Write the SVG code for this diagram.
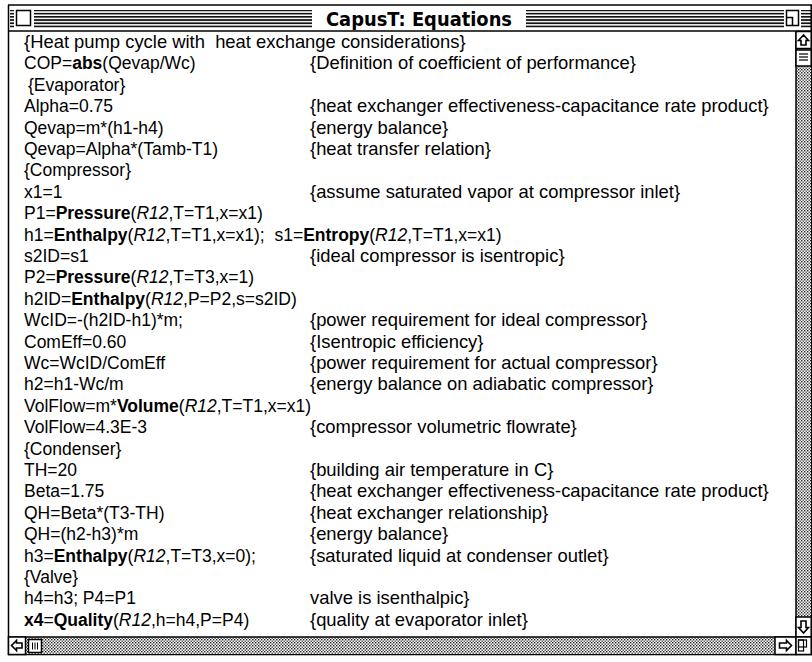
<svg xmlns="http://www.w3.org/2000/svg" width="812" height="662" viewBox="0 0 812 662">
<defs>
  <pattern id="dither" width="3" height="3" patternUnits="userSpaceOnUse">
    <rect width="3" height="3" fill="#fff"/>
    <rect x="0" y="0" width="1.4" height="1.4" fill="#222"/>
    <rect x="1.5" y="1.5" width="1.4" height="1.4" fill="#444"/>
  </pattern>
  <pattern id="stripes" width="4" height="3.2" patternUnits="userSpaceOnUse">
    <rect width="4" height="3.2" fill="#fff"/>
    <rect y="0" width="4" height="1.7" fill="#111"/>
  </pattern>
  <style>
    .code { font-family: "Liberation Sans", Arial, sans-serif; font-size: 17.5px; fill: #000; }
    .note { font-family: "Liberation Sans", Arial, sans-serif; font-size: 18.4px; fill: #000; }
    .b { font-weight: bold; }
    .i { font-style: italic; }
    .title { font-family: "DejaVu Sans", sans-serif; font-weight: bold; font-size: 19px; fill: #000; }
    .box { fill: #fff; stroke: #000; stroke-width: 1.5; }
    .glyph { fill: #fff; stroke: #000; stroke-width: 1.6; stroke-linejoin: miter; }
    .edge { stroke: #000; stroke-width: 1.5; fill: none; }
  </style>
</defs>

<rect width="812" height="662" fill="#fff"/>

<!-- window title bar -->
<g id="titlebar">
  <line x1="8" y1="5" x2="812" y2="5" class="edge"/>
  <rect x="10" y="10" width="802" height="18" fill="url(#stripes)"/>
  <!-- close box -->
  <rect x="14" y="7" width="20" height="22" fill="#fff"/>
  <rect x="16.5" y="10.5" width="14" height="15" class="box"/>
  <!-- title -->
  <rect x="312" y="7" width="214" height="22" fill="#fff"/>
  <text x="419" y="26" text-anchor="middle" class="title" textLength="186" lengthAdjust="spacingAndGlyphs">CapusT: Equations</text>
  <!-- zoom box -->
  <rect x="784" y="7" width="17" height="22" fill="#fff"/>
  <rect x="786.5" y="10.5" width="12" height="15" class="box"/>
  <polyline points="786.5,17.5 792.5,17.5 792.5,25.5" class="edge"/>
  <line x1="8" y1="31" x2="812" y2="31" class="edge"/>
</g>

<!-- window frame -->
<g id="frame">
  <line x1="8.5" y1="5" x2="8.5" y2="655" class="edge"/>
  <line x1="8" y1="654.5" x2="812" y2="654.5" class="edge"/>
  <line x1="811.2" y1="5" x2="811.2" y2="655" class="edge"/>
</g>

<!-- vertical scroll bar -->
<g id="vscroll">
  <rect x="796" y="31" width="15" height="606" fill="url(#dither)"/>
  <line x1="796" y1="31" x2="796" y2="637" class="edge"/>
  <rect x="796" y="31.5" width="15.2" height="17" class="box"/>
  <polygon points="803.5,35 798.5,40.5 801,40.5 801,45 806,45 806,40.5 808.5,40.5" class="glyph"/>
  <rect x="796" y="50" width="15.2" height="16" class="box"/>
  <line x1="799" y1="54" x2="808" y2="54" stroke="#000" stroke-width="1.2"/>
  <line x1="799" y1="57" x2="808" y2="57" stroke="#000" stroke-width="1.2"/>
  <line x1="799" y1="60" x2="808" y2="60" stroke="#000" stroke-width="1.2"/>
  <rect x="796" y="617" width="15.2" height="20" class="box"/>
  <polygon points="803.5,633 798.5,627.5 801,627.5 801,621 806,621 806,627.5 808.5,627.5" class="glyph"/>
</g>

<!-- horizontal scroll bar -->
<g id="hscroll">
  <rect x="9" y="637" width="787" height="17" fill="url(#dither)"/>
  <line x1="8" y1="637" x2="812" y2="637" class="edge"/>
  <rect x="8.5" y="637" width="17" height="17.5" class="box"/>
  <polygon points="11.5,645.5 16.5,640.5 16.5,643 22,643 22,648 16.5,648 16.5,650.5" class="glyph"/>
  <rect x="28.5" y="639.5" width="13" height="13" class="box"/>
  <line x1="32.5" y1="642.5" x2="32.5" y2="649.5" stroke="#000" stroke-width="1"/>
  <line x1="35" y1="642.5" x2="35" y2="649.5" stroke="#000" stroke-width="1"/>
  <line x1="37.5" y1="642.5" x2="37.5" y2="649.5" stroke="#000" stroke-width="1"/>
  <rect x="775" y="637" width="21" height="17.5" class="box"/>
  <polygon points="791.5,645.5 786.5,640.5 786.5,643 779.5,643 779.5,648 786.5,648 786.5,650.5" class="glyph"/>
  <!-- grow box -->
  <rect x="796" y="637" width="15.2" height="17.5" class="box"/>
  <rect x="798.5" y="640" width="8" height="7" fill="none" stroke="#000" stroke-width="1.2"/>
  <rect x="798.5" y="640" width="5" height="11" fill="none" stroke="#000" stroke-width="1.2"/>
</g>

<!-- equations listing -->
<g id="equations" class="code">
  <text x="24" y="48" xml:space="preserve" class="note">{Heat pump cycle with  heat exchange considerations}</text>
  <text x="24" y="69.4">COP=<tspan class="b">abs</tspan>(Qevap/Wc)</text>
  <text x="28" y="90.8">{Evaporator}</text>
  <text x="24" y="112.2">Alpha=0.75</text>
  <text x="24" y="133.6">Qevap=m*(h1-h4)</text>
  <text x="24" y="155">Qevap=Alpha*(Tamb-T1)</text>
  <text x="24" y="176.4">{Compressor}</text>
  <text x="24" y="197.8">x1=1</text>
  <text x="24" y="219.2">P1=<tspan class="b">Pressure</tspan>(<tspan class="i">R12</tspan>,T=T1,x=x1)</text>
  <text x="24" y="240.6" xml:space="preserve">h1=<tspan class="b">Enthalpy</tspan>(<tspan class="i">R12</tspan>,T=T1,x=x1);  s1=<tspan class="b">Entropy</tspan>(<tspan class="i">R12</tspan>,T=T1,x=x1)</text>
  <text x="24" y="262">s2ID=s1</text>
  <text x="24" y="283.4">P2=<tspan class="b">Pressure</tspan>(<tspan class="i">R12</tspan>,T=T3,x=1)</text>
  <text x="24" y="304.8">h2ID=<tspan class="b">Enthalpy</tspan>(<tspan class="i">R12</tspan>,P=P2,s=s2ID)</text>
  <text x="24" y="326.2">WcID=-(h2ID-h1)*m;</text>
  <text x="24" y="347.6">ComEff=0.60</text>
  <text x="24" y="369">Wc=WcID/ComEff</text>
  <text x="24" y="390.4">h2=h1-Wc/m</text>
  <text x="24" y="411.8">VolFlow=m*<tspan class="b">Volume</tspan>(<tspan class="i">R12</tspan>,T=T1,x=x1)</text>
  <text x="24" y="433.2">VolFlow=4.3E-3</text>
  <text x="24" y="454.6">{Condenser}</text>
  <text x="24" y="476">TH=20</text>
  <text x="24" y="497.4">Beta=1.75</text>
  <text x="24" y="518.8">QH=Beta*(T3-TH)</text>
  <text x="24" y="540.2">QH=(h2-h3)*m</text>
  <text x="24" y="561.6">h3=<tspan class="b">Enthalpy</tspan>(<tspan class="i">R12</tspan>,T=T3,x=0);</text>
  <text x="24" y="583">{Valve}</text>
  <text x="24" y="604.4">h4=h3; P4=P1</text>
  <text x="24" y="625.8"><tspan class="b">x4</tspan>=<tspan class="b">Quality</tspan>(<tspan class="i">R12</tspan>,h=h4,P=P4)</text>
</g>

<!-- comment column -->
<g id="comments" class="note">
  <text x="310" y="69.4">{Definition of coefficient of performance}</text>
  <text x="310" y="112.2">{heat exchanger effectiveness-capacitance rate product}</text>
  <text x="310" y="133.6">{energy balance}</text>
  <text x="310" y="155">{heat transfer relation}</text>
  <text x="310" y="197.8">{assume saturated vapor at compressor inlet}</text>
  <text x="310" y="262">{ideal compressor is isentropic}</text>
  <text x="310" y="326.2">{power requirement for ideal compressor}</text>
  <text x="310" y="347.6">{Isentropic efficiency}</text>
  <text x="310" y="369">{power requirement for actual compressor}</text>
  <text x="310" y="390.4">{energy balance on adiabatic compressor}</text>
  <text x="310" y="433.2">{compressor volumetric flowrate}</text>
  <text x="310" y="476">{building air temperature in C}</text>
  <text x="310" y="497.4">{heat exchanger effectiveness-capacitance rate product}</text>
  <text x="310" y="518.8">{heat exchanger relationship}</text>
  <text x="310" y="540.2">{energy balance}</text>
  <text x="310" y="561.6">{saturated liquid at condenser outlet}</text>
  <text x="310" y="604.4">valve is isenthalpic}</text>
  <text x="310" y="625.8">{quality at evaporator inlet}</text>
</g>
</svg>
